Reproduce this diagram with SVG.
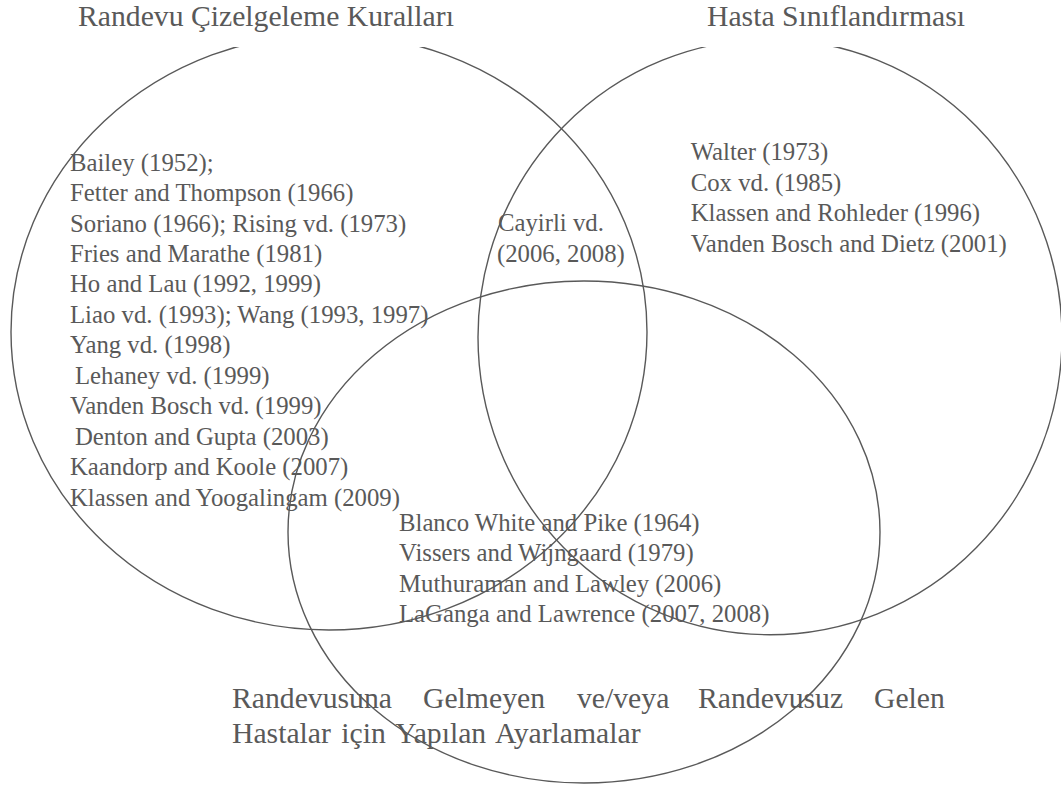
<svg xmlns="http://www.w3.org/2000/svg" width="1061" height="789" viewBox="0 0 1061 789">
  <style>
    .set { fill: none; stroke: #595959; stroke-width: 1.4; }
    .box { fill: #ffffff; stroke: none; }
    .title { font-family: "Liberation Serif", "Times New Roman", serif; font-size: 29.7px; fill: #595959; }
    .item { font-family: "Liberation Serif", "Times New Roman", serif; font-size: 24.75px; fill: #595959; }
  </style>
  <rect width="1061" height="789" fill="#ffffff"/>

  <!-- Set 1: appointment scheduling rules -->
  <g id="set-scheduling">
    <ellipse class="set" cx="329" cy="332" rx="318" ry="298"/>
    <rect class="box" x="60" y="0" width="420" height="47"/>
    <text class="title" x="78" y="25.5">Randevu Çizelgeleme Kuralları</text>
  </g>

  <!-- Set 2: patient classification -->
  <g id="set-classification">
    <ellipse class="set" cx="770" cy="337" rx="292" ry="297.7"/>
    <rect class="box" x="690" y="0" width="300" height="47"/>
    <text class="title" x="707" y="25.5">Hasta Sınıflandırması</text>
  </g>

  <!-- Set 3: adjustments for no-shows / walk-ins -->
  <g id="set-adjustments">
    <ellipse class="set" cx="584" cy="532" rx="296" ry="251"/>
    <text class="title" y="707.5">
      <tspan x="232">Randevusuna</tspan>
      <tspan x="423">Gelmeyen</tspan>
      <tspan x="577">ve/veya</tspan>
      <tspan x="698">Randevusuz</tspan>
      <tspan x="874">Gelen</tspan>
    </text>
    <text class="title" x="232" y="743" word-spacing="3">Hastalar için Yapılan Ayarlamalar</text>
  </g>

  <!-- Scheduling rules only -->
  <g id="list-scheduling" class="item">
    <text x="70" y="170.7">Bailey (1952);</text>
    <text x="70" y="201">Fetter and Thompson (1966)</text>
    <text x="70" y="231.7">Soriano (1966); Rising vd. (1973)</text>
    <text x="70" y="262">Fries and Marathe (1981)</text>
    <text x="70" y="292.4">Ho and Lau (1992, 1999)</text>
    <text x="70" y="322.8">Liao vd. (1993); Wang (1993, 1997)</text>
    <text x="70" y="353.3">Yang vd. (1998)</text>
    <text x="75" y="383.8">Lehaney vd. (1999)</text>
    <text x="70" y="414.2">Vanden Bosch vd. (1999)</text>
    <text x="75" y="444.7">Denton and Gupta (2003)</text>
    <text x="70" y="475.1">Kaandorp and Koole (2007)</text>
    <text x="70" y="505.6">Klassen and Yoogalingam (2009)</text>
  </g>

  <!-- Scheduling rules ∩ classification -->
  <g id="list-overlap-top" class="item">
    <text x="498" y="230.7">Cayirli vd.</text>
    <text x="497" y="261.7">(2006, 2008)</text>
  </g>

  <!-- Classification only -->
  <g id="list-classification" class="item">
    <text x="690.7" y="160">Walter (1973)</text>
    <text x="690.7" y="190.5">Cox vd. (1985)</text>
    <text x="690.7" y="221">Klassen and Rohleder (1996)</text>
    <text x="690.7" y="251.5">Vanden Bosch and Dietz (2001)</text>
  </g>

  <!-- Adjustments -->
  <g id="list-adjustments" class="item">
    <text x="399" y="530.5">Blanco White and Pike (1964)</text>
    <text x="399" y="561">Vissers and Wijngaard (1979)</text>
    <text x="399" y="591.5">Muthuraman and Lawley (2006)</text>
    <text x="399" y="622">LaGanga and Lawrence (2007, 2008)</text>
  </g>
</svg>
